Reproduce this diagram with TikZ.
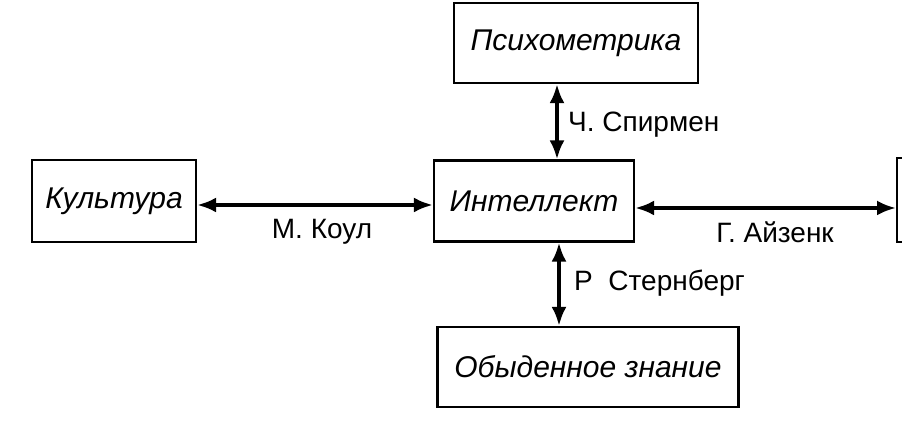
\documentclass[tikz,border=0pt]{standalone}
\usepackage{fontspec}
\setmainfont{Liberation Sans}
\usetikzlibrary{arrows.meta}

\begin{document}
\begin{tikzpicture}[x=1pt,y=1pt,
	box/.style={draw,line width=2.2pt,inner sep=0pt,font=\itshape\fontsize{30}{36}\selectfont},
	link/.style={line width=3.6pt,{Latex[length=19pt,width=15pt]}-{Latex[length=19pt,width=15pt]}},
	lbl/.style={inner sep=0pt,font=\fontsize{28}{33}\selectfont}]
			\useasboundingbox (0,0) rectangle (902,438);
			\node[box,minimum width=244,minimum height=80] (psy) at (576,395) {Психометрика};
			\node[box,minimum width=200,minimum height=81] (intel) at (534,237) {Интеллект};
			\node[box,minimum width=164,minimum height=82] (cult) at (114,237) {Культура};
			\node[box,minimum width=301,minimum height=80] (every) at (588,71) {Обыденное знание};
			\node[box,minimum width=80,minimum height=84,anchor=west] (right) at (896,238) {};
			\coordinate (vup) at (557,0);
			\coordinate (vdn) at (559,0);
			\draw[link] (psy.south -| vup) -- (intel.north -| vup);
			\draw[link] (intel.south -| vdn) -- (every.north -| vdn);
			\draw[link] (cult.east |- 0,233) -- (intel.west |- 0,233);
			\draw[link] (intel.east |- 0,230) -- (right.west |- 0,230);
			%labels
			\node[lbl,anchor=west] (spear) at (568,313) {Ч. Спирмен};
			\node[lbl,anchor=west] (stern) at (574,155) {Р~ Стернберг};
			\node[lbl] (cole) at (322,206) {М. Коул};
			\node[lbl] (eys) at (775,206) {Г. Айзенк};
			\end{tikzpicture}
\end{document}
